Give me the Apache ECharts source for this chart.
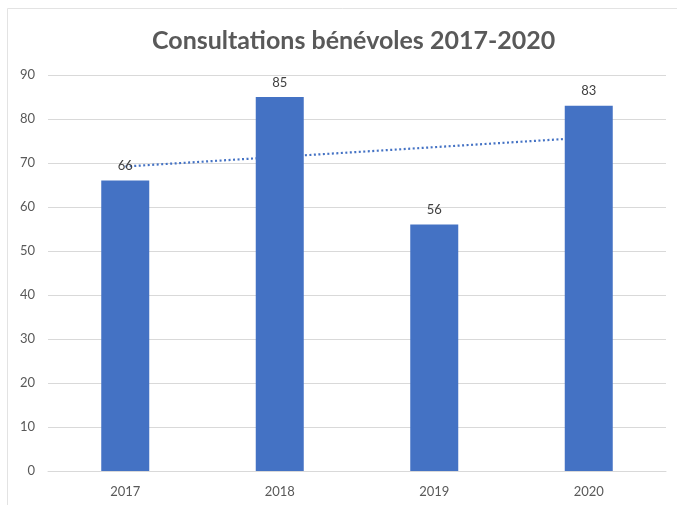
<!DOCTYPE html>
<html><head><meta charset="utf-8">
<script src="https://cdn.jsdelivr.net/npm/echarts@6/dist/echarts.min.js"></script>
<style>html,body{margin:0;padding:0;background:#fff}#c{width:677px;height:505px}</style>
</head><body><div id="c"></div>
<script>
const categories = ['2017', '2018', '2019', '2020'];
const consultations = [66, 85, 56, 83];
const trendValues = [69.2, 71.4, 73.6, 75.8];
const yTicks = [0, 10, 20, 30, 40, 50, 60, 70, 80, 90];

const chart = echarts.init(document.getElementById('c'));
chart.setOption({
  animation: false,
  backgroundColor: '#fff',
  title: {
    text: 'Consultations bénévoles 2017-2020',
    left: 147, top: 23,
    textStyle: { fontFamily: 'Lato', fontWeight: 'bold', fontSize: 25, color: '#595959' }
  },
  graphic: [{
    type: 'rect', shape: { x: 7.5, y: 8.5, width: 700, height: 520 },
    style: { fill: 'none', stroke: '#e3e3e3', lineWidth: 1 }, silent: true, z: -10
  }],
  grid: { left: 48, right: 11, top: 75, bottom: 34 },
  xAxis: {
    type: 'category', data: categories,
    axisLine: { show: true, lineStyle: { color: '#d9d9d9', width: 1 } },
    axisTick: { show: false },
    axisLabel: { color: '#595959', fontSize: 13, fontFamily: 'Lato', margin: 14 }
  },
  yAxis: {
    type: 'value', min: yTicks[0], max: yTicks[yTicks.length - 1], interval: 10,
    axisLine: { show: false }, axisTick: { show: false },
    axisLabel: { color: '#595959', fontSize: 13, fontFamily: 'Lato', margin: 13 },
    splitLine: { lineStyle: { color: '#d9d9d9', width: 1 } }
  },
  series: [
    {
      type: 'line', data: trendValues, z: 1, symbol: 'none', silent: true,
      lineStyle: { color: '#4472C4', width: 2.2, type: [2, 2.5] }
    },
    {
      type: 'bar', data: consultations, z: 2, barWidth: 48,
      itemStyle: { color: '#4472C4' },
      label: { show: true, position: 'top', distance: 8, color: '#404040', fontSize: 13, fontFamily: 'Lato' }
    }
  ]
});
</script></body></html>
